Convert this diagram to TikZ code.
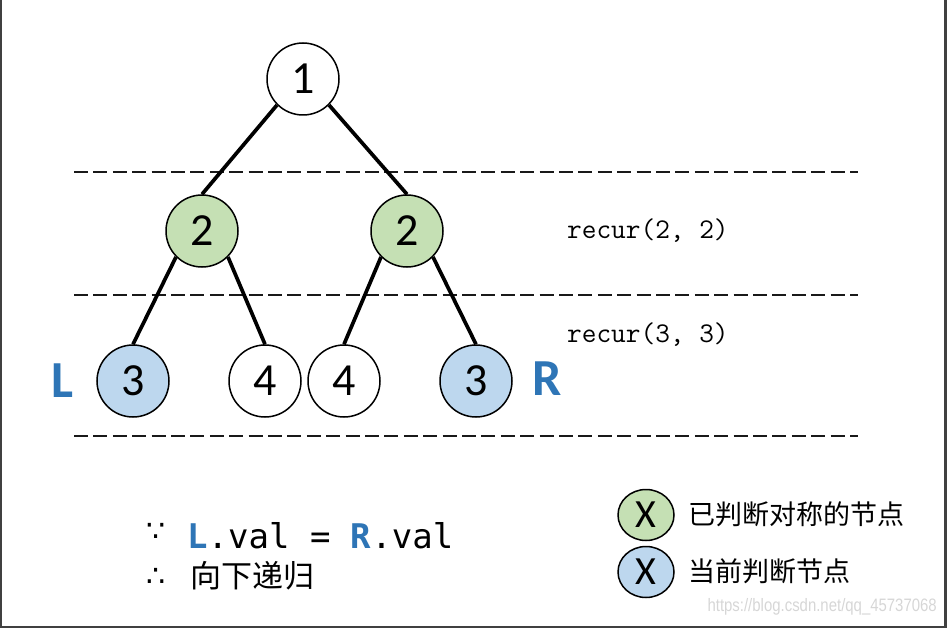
\documentclass[tikz,border=0pt]{standalone}
\usepackage{fontspec}
\setmainfont{Carlito}
\newfontfamily\cjk{Noto Sans CJK SC}
\newfontfamily\bodymono{DejaVu Sans Mono}
\newfontfamily\symfont{DejaVu Sans}
\newfontfamily\wmfont{Liberation Sans}
\definecolor{lgreen}{HTML}{C5E0B4}
\definecolor{lblue}{HTML}{BDD7EE}
\definecolor{tblue}{HTML}{2E75B6}
\usetikzlibrary{shapes.geometric}
\tikzset{
  tnode/.style={circle, draw=black, line width=1.5bp, minimum size=72bp, inner sep=0pt,
    font=\fontsize{46bp}{46bp}\selectfont},
  gnode/.style={tnode, fill=lgreen},
  bnode/.style={tnode, fill=lblue},
  edge/.style={line width=3.7bp, black},
  level/.style={line width=2bp, black!90, dash pattern=on 14bp off 5.4bp},
  recurlbl/.style={anchor=west, inner sep=0pt, font=\ttfamily\fontsize{28.5bp}{28.5bp}\selectfont},
  sidelbl/.style={inner sep=0pt, text=tblue, font=\fontsize{52bp}{52bp}\selectfont\bfseries},
  legnode/.style={ellipse, draw=black, line width=1.5bp, minimum width=56bp, minimum height=51bp,
    inner sep=0pt, font=\fontsize{40bp}{40bp}\selectfont},
  legtext/.style={anchor=west, inner sep=0pt, font=\cjk\fontsize{27bp}{27bp}\selectfont},
  logic/.style={inner sep=0pt, font=\symfont\fontsize{30bp}{30bp}\selectfont},
}
\begin{document}
\begin{tikzpicture}[x=1bp, y=-1bp]
\useasboundingbox (0,0) rectangle (947,629);
% frame
\draw[line width=2.5bp, black!75] (1,0) -- (1,627) -- (945.5,627) -- (945.5,0);
% level lines
\draw[level] (74,172) -- (858,172);
\draw[level] (74,295) -- (858,295);
\draw[level] (74,436) -- (858,436);
% nodes
\node[tnode] (n1) at (303,79) {1};
\node[gnode] (n2a) at (202,231) {2};
\node[gnode] (n2b) at (407,231) {2};
\node[bnode] (n3a) at (133,381) {3};
\node[tnode] (n4a) at (265,381) {4};
\node[tnode] (n4b) at (344,381) {4};
\node[bnode] (n3b) at (476,381) {3};
% edges
\draw[edge] (n1.south west) -- (n2a.north);
\draw[edge] (n1.south east) -- (n2b.north);
\draw[edge] (n2a.south west) -- (n3a.north);
\draw[edge] (n2a.south east) -- (n4a.north);
\draw[edge] (n2b.south west) -- (n4b.north);
\draw[edge] (n2b.south east) -- (n3b.north);
% side labels
\node[sidelbl] (lL) at (62,381) {L};
\node[sidelbl] (lR) at (547,379) {R};
% recur labels
\node[recurlbl] (r2) at (567,231) {recur(2, 2)};
\node[recurlbl] (r3) at (567,335) {recur(3, 3)};
% bottom reasoning
\node[logic] (because) at (156,532) {∵};
\node[anchor=base west, inner sep=0pt, font=\bodymono\fontsize{34bp}{34bp}\selectfont] (eq) at (187,548)
  {\textcolor{tblue}{\bfseries L}.val = \textcolor{tblue}{\bfseries R}.val};
\node[logic] (therefore) at (156,577) {∴};
\node[anchor=west, inner sep=0pt, font=\cjk\fontsize{31bp}{31bp}\selectfont] (down) at (190,576) {向下递归};
% legend
\node[legnode, fill=lgreen] (lg) at (646,515) {X};
\node[legnode, fill=lblue] (lb) at (646,572) {X};
\node[legtext] (lgt) at (688,514) {已判断对称的节点};
\node[legtext] (lbt) at (688,571) {当前判断节点};
% watermark
\node[anchor=east, inner sep=0pt, text=black!16, font=\wmfont\fontsize{18bp}{18bp}\selectfont] (wm) at (937,607) {\scalebox{0.83}[1]{https://blog.csdn.net/qq\_45737068}};
\end{tikzpicture}
\end{document}
